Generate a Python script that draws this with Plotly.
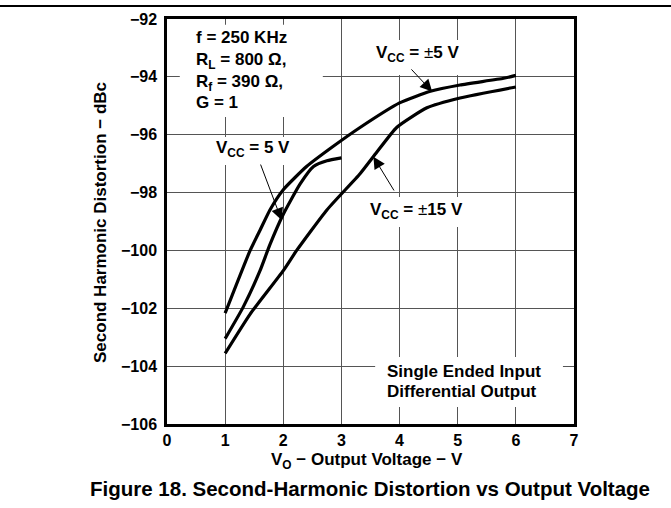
import plotly.graph_objects as go

# ---- data ----
x_pm5 = [1, 1.43, 1.6, 1.77, 2.0, 2.4, 2.86, 3.32, 4.0, 4.53, 5.04, 5.79, 6.0]
y_pm5 = [-102.17, -100.0, -99.3, -98.6, -97.9, -97.1, -96.4, -95.75, -94.9, -94.5, -94.28, -94.05, -93.95]

x_5 = [1, 1.31, 1.6, 1.77, 2.0, 2.29, 2.52, 2.75, 3.0]
y_5 = [-103.05, -101.96, -100.7, -99.8, -98.75, -97.7, -97.1, -96.9, -96.8]

x_pm15 = [1, 1.43, 2.0, 2.23, 2.75, 3.32, 3.61, 3.95, 4.47, 5.04, 6.0]
y_pm15 = [-103.56, -102.2, -100.7, -100.0, -98.6, -97.35, -96.6, -95.75, -95.07, -94.73, -94.35]

x_ticks = [0, 1, 2, 3, 4, 5, 6, 7]
y_ticks = [-106, -104, -102, -100, -98, -96, -94, -92]

FONT = "Arial, 'Liberation Sans', sans-serif"
BOLD = dict(family=FONT, size=17, color="black", weight="bold")
PM = "<span style='font-weight:normal'>±</span>"

fig = go.Figure()
for xs, ys in [(x_pm5, y_pm5), (x_5, y_5), (x_pm15, y_pm15)]:
    fig.add_trace(go.Scatter(x=xs, y=ys, mode="lines",
                             line=dict(color="black", width=3.2, shape="spline", smoothing=0.5),
                             showlegend=False, hoverinfo="skip"))

# white masks behind labels (gridline gaps)
masks = [(0.22, 2.68, -92.2, -95.39), (0.65, 2.29, -96.08, -97.05),
         (3.41, 5.3, -92.73, -93.94), (3.32, 5.22, -98.15, -99.19),
         (3.58, 6.81, -103.68, -105.41)]
shapes = []
for x0, x1, y0, y1 in masks:
    shapes.append(dict(type="rect", xref="x", yref="y", x0=x0, x1=x1, y0=y0, y1=y1,
                       fillcolor="white", line=dict(width=0), layer="between"))
# top rule across page
shapes.append(dict(type="line", xref="paper", yref="paper", x0=-0.42, x1=1.24,
                   y0=1.032, y1=1.032, line=dict(color="black", width=2)))

annotations = []
def txt(x, y, s, xanchor="center"):
    annotations.append(dict(x=x, y=y, xref="x", yref="y", text=s, showarrow=False,
                            xanchor=xanchor, yanchor="middle", font=BOLD))

txt(0.465, -92.64, "f = 250 KHz", "left")
txt(0.465, -93.45, "R<sub>L</sub> = 800 Ω,", "left")
txt(0.465, -94.2, "R<sub>f</sub> = 390 Ω,", "left")
txt(0.465, -94.87, "G = 1", "left")
txt(1.48, -96.5, "V<sub>CC</sub> = 5 V")
txt(4.31, -93.2, "V<sub>CC</sub> = " + PM + "5 V")
txt(4.29, -98.64, "V<sub>CC</sub> = " + PM + "15 V")
txt(3.75, -104.17, "Single Ended Input", "left")
txt(3.75, -104.89, "Differential Output", "left")

def arrow(xt, yt, xa, ya):
    annotations.append(dict(x=xt, y=yt, ax=xa, ay=ya, xref="x", yref="y", axref="x", ayref="y",
                            text="", showarrow=True, arrowhead=2, arrowsize=2.4, arrowwidth=1,
                            arrowcolor="black", standoff=0))

arrow(1.97, -98.95, 1.60, -96.98)
arrow(4.56, -94.51, 4.18, -93.69)
arrow(3.55, -96.76, 3.92, -97.98)

# axis titles and caption as paper annotations
annotations.append(dict(xref="paper", yref="paper", x=(367 - 167) / 407, y=-(461 - 424) / 405,
                        text="V<sub>O</sub> − Output Voltage − V", showarrow=False,
                        xanchor="center", yanchor="middle", font=BOLD))
annotations.append(dict(xref="paper", yref="paper", x=(100 - 167) / 407, y=(424 - 223) / 405,
                        text="Second Harmonic Distortion − dBc", showarrow=False, textangle=-90,
                        xanchor="center", yanchor="middle", font=BOLD))
annotations.append(dict(xref="paper", yref="paper", x=(370 - 167) / 407, y=-(488 - 424) / 405,
                        text="Figure 18. Second-Harmonic Distortion vs Output Voltage", showarrow=False,
                        xanchor="center", yanchor="middle",
                        font=dict(family=FONT, size=20.5, color="black", weight="bold")))

axis_common = dict(showgrid=True, gridcolor="#555555", gridwidth=1.2, zeroline=False,
                   showline=True, linecolor="black", linewidth=2.5, mirror=True,
                   ticks="", tickfont=dict(family=FONT, size=16, color="black", weight="bold"))

fig.update_layout(
    width=671, height=508,
    margin=dict(l=167, r=97, t=19, b=84),
    paper_bgcolor="white", plot_bgcolor="white",
    xaxis=dict(range=[0, 7], tickvals=x_ticks, ticktext=[str(v) for v in x_ticks], **axis_common),
    yaxis=dict(range=[-106, -92], tickvals=y_ticks, ticktext=["−" + str(-v) for v in y_ticks],
               ticklabelstandoff=4, **axis_common),
    shapes=shapes, annotations=annotations,
)

fig.write_html("out.html", config={"displayModeBar": False},
               post_script="document.body.style.margin='0';document.body.style.overflow='hidden';")
